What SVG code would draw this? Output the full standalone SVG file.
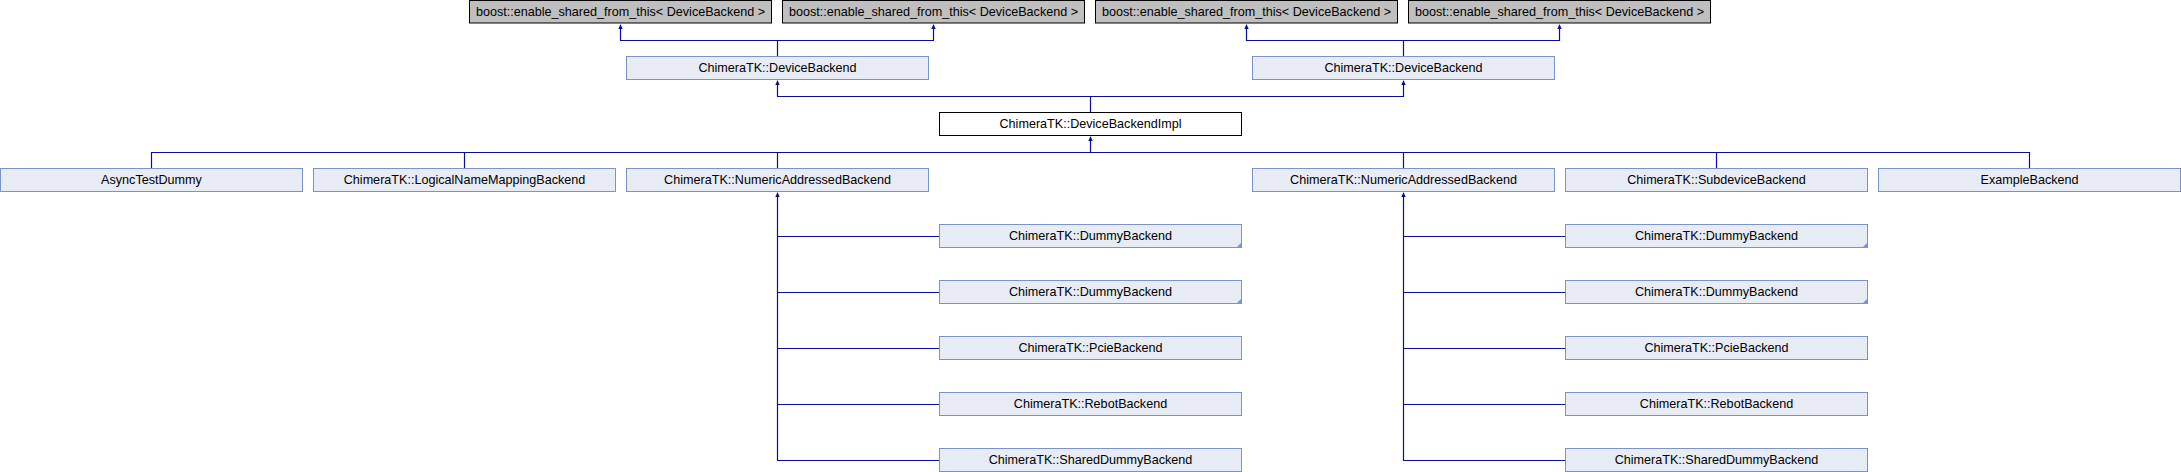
<svg xmlns="http://www.w3.org/2000/svg" width="2181" height="472" viewBox="0 0 2181 472">
<defs>
<style>
.n rect{fill:#e7ebf4;stroke:#7b93ca;stroke-width:1}
.g rect{fill:#bfbfbf;stroke:#000;stroke-width:1}
.c rect{fill:#fff;stroke:#000;stroke-width:1}
text{font-family:"Liberation Sans",Arial,sans-serif;font-size:12.6px;fill:#000;text-anchor:middle}
.e path{fill:none;stroke:#0c0c9c;stroke-width:1.2}
.e polygon{fill:#0c0c9c;stroke:none}
.f{fill:#7b93ca;stroke:none}
</style>
</defs>
<rect width="2181" height="472" fill="#fff"/>
<g id="edges" class="e">
<path d="M777.5,56.5V40.5M620.5,28V40.5H933.5V28"/>
<polygon points="620.5,24 618.3,29 622.7,29"/>
<polygon points="933.5,24 931.3,29 935.7,29"/>
<path d="M1403.5,56.5V40.5M1246.5,28V40.5H1559.5V28"/>
<polygon points="1246.5,24 1244.3,29 1248.7,29"/>
<polygon points="1559.5,24 1557.3,29 1561.7,29"/>
<path d="M1090.5,112.5V96.5M777.5,84V96.5H1403.5V84"/>
<polygon points="777.5,80 775.3,85 779.7,85"/>
<polygon points="1403.5,80 1401.3,85 1405.7,85"/>
<path d="M1090.5,140V152.5M151.5,168.5V152.5H2029.5V168.5M464.5,152.5V168.5M777.5,152.5V168.5M1403.5,152.5V168.5M1716.5,152.5V168.5"/>
<polygon points="1090.5,136 1088.3,141 1092.7,141"/>
<path d="M777.5,196V460.5H939.5M777.5,236.5H939.5M777.5,292.5H939.5M777.5,348.5H939.5M777.5,404.5H939.5"/>
<polygon points="777.5,192 775.3,197 779.7,197"/>
<path d="M1403.5,196V460.5H1565.5M1403.5,236.5H1565.5M1403.5,292.5H1565.5M1403.5,348.5H1565.5M1403.5,404.5H1565.5"/>
<polygon points="1403.5,192 1401.3,197 1405.7,197"/>
</g>
<g id="esft1" class="g"><rect x="469.5" y="0.5" width="302" height="22.5"/><text x="620.5" y="16">boost::enable_shared_from_this&lt; DeviceBackend &gt;</text></g>
<g id="esft2" class="g"><rect x="782.5" y="0.5" width="302" height="22.5"/><text x="933.5" y="16">boost::enable_shared_from_this&lt; DeviceBackend &gt;</text></g>
<g id="esft3" class="g"><rect x="1095.5" y="0.5" width="302" height="22.5"/><text x="1246.5" y="16">boost::enable_shared_from_this&lt; DeviceBackend &gt;</text></g>
<g id="esft4" class="g"><rect x="1408.5" y="0.5" width="302" height="22.5"/><text x="1559.5" y="16">boost::enable_shared_from_this&lt; DeviceBackend &gt;</text></g>
<g id="devicebackend1" class="n"><rect x="626.5" y="56.5" width="302" height="23"/><text x="777.5" y="72">ChimeraTK::DeviceBackend</text></g>
<g id="devicebackend2" class="n"><rect x="1252.5" y="56.5" width="302" height="23"/><text x="1403.5" y="72">ChimeraTK::DeviceBackend</text></g>
<g id="devicebackendimpl" class="c"><rect x="939.5" y="112.5" width="302" height="23"/><text x="1090.5" y="128">ChimeraTK::DeviceBackendImpl</text></g>
<g id="asynctestdummy" class="n"><rect x="0.5" y="168.5" width="302" height="23"/><text x="151.5" y="184">AsyncTestDummy</text></g>
<g id="logicalnamemapping" class="n"><rect x="313.5" y="168.5" width="302" height="23"/><text x="464.5" y="184">ChimeraTK::LogicalNameMappingBackend</text></g>
<g id="numericaddressed1" class="n"><rect x="626.5" y="168.5" width="302" height="23"/><text x="777.5" y="184">ChimeraTK::NumericAddressedBackend</text></g>
<g id="numericaddressed2" class="n"><rect x="1252.5" y="168.5" width="302" height="23"/><text x="1403.5" y="184">ChimeraTK::NumericAddressedBackend</text></g>
<g id="subdevice" class="n"><rect x="1565.5" y="168.5" width="302" height="23"/><text x="1716.5" y="184">ChimeraTK::SubdeviceBackend</text></g>
<g id="examplebackend" class="n"><rect x="1878.5" y="168.5" width="302" height="23"/><text x="2029.5" y="184">ExampleBackend</text></g>
<g id="dummy1a" class="n"><rect x="939.5" y="224.5" width="302" height="23"/><polygon class="f" points="1236.5,247.5 1241.5,247.5 1241.5,242.5"/><text x="1090.5" y="240">ChimeraTK::DummyBackend</text></g>
<g id="dummy1b" class="n"><rect x="939.5" y="280.5" width="302" height="23"/><polygon class="f" points="1236.5,303.5 1241.5,303.5 1241.5,298.5"/><text x="1090.5" y="296">ChimeraTK::DummyBackend</text></g>
<g id="pcie1" class="n"><rect x="939.5" y="336.5" width="302" height="23"/><text x="1090.5" y="352">ChimeraTK::PcieBackend</text></g>
<g id="rebot1" class="n"><rect x="939.5" y="392.5" width="302" height="23"/><text x="1090.5" y="408">ChimeraTK::RebotBackend</text></g>
<g id="shareddummy1" class="n"><rect x="939.5" y="448.5" width="302" height="23"/><text x="1090.5" y="464">ChimeraTK::SharedDummyBackend</text></g>
<g id="dummy2a" class="n"><rect x="1565.5" y="224.5" width="302" height="23"/><polygon class="f" points="1862.5,247.5 1867.5,247.5 1867.5,242.5"/><text x="1716.5" y="240">ChimeraTK::DummyBackend</text></g>
<g id="dummy2b" class="n"><rect x="1565.5" y="280.5" width="302" height="23"/><polygon class="f" points="1862.5,303.5 1867.5,303.5 1867.5,298.5"/><text x="1716.5" y="296">ChimeraTK::DummyBackend</text></g>
<g id="pcie2" class="n"><rect x="1565.5" y="336.5" width="302" height="23"/><text x="1716.5" y="352">ChimeraTK::PcieBackend</text></g>
<g id="rebot2" class="n"><rect x="1565.5" y="392.5" width="302" height="23"/><text x="1716.5" y="408">ChimeraTK::RebotBackend</text></g>
<g id="shareddummy2" class="n"><rect x="1565.5" y="448.5" width="302" height="23"/><text x="1716.5" y="464">ChimeraTK::SharedDummyBackend</text></g>
</svg>
